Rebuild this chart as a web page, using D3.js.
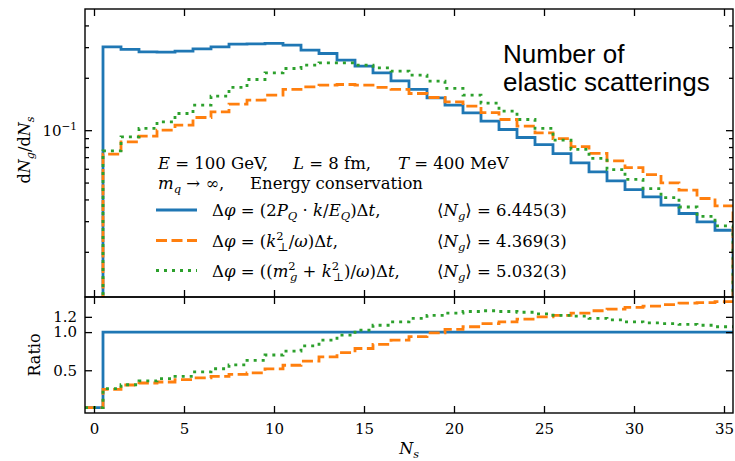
<!DOCTYPE html>
<html>
<head>
<meta charset="utf-8">
<script src="https://cdn.jsdelivr.net/npm/d3@7"></script>
<style>
  body { margin: 0; background: #fff; }
  svg text { font-family: "DejaVu Serif", serif; fill: #000; white-space: pre; }
  .sans { font-family: "Liberation Sans", Arial, sans-serif !important; }
  .axis path, .axis line { stroke: #000; stroke-width: 1.3; }
</style>
</head>
<body>
<svg id="chart" width="735" height="461"></svg>
<script>
// bin centres N_s = 0..35
const bins = d3.range(0, 36);

// dN_g/dN_s (bin 0 is below the axis)
const distBlue = [0, 0.3012, 0.2910, 0.2818, 0.2807, 0.2844, 0.2933, 0.3012, 0.3122, 0.3133,
  0.3150, 0.3080, 0.2883, 0.2759, 0.2526, 0.2333, 0.2135, 0.1920, 0.1714, 0.1533,
  0.1392, 0.1257, 0.1126, 0.1009, 0.0908, 0.0826, 0.0733, 0.0649, 0.0576, 0.0511,
  0.0456, 0.0414, 0.0371, 0.0332, 0.0297, 0.0266];
const distOrange = [0, 0.0728, 0.0857, 0.0924, 0.1000, 0.1068, 0.1183, 0.1274, 0.1411, 0.1487,
  0.1589, 0.1714, 0.1774, 0.1814, 0.1830, 0.1814, 0.1760, 0.1714, 0.1625, 0.1541,
  0.1454, 0.1374, 0.1261, 0.1152, 0.1054, 0.0965, 0.0894, 0.0804, 0.0735, 0.0666,
  0.0609, 0.0556, 0.0498, 0.0452, 0.0405, 0.0367];
const distGreen = [0, 0.0760, 0.0915, 0.1023, 0.1116, 0.1247, 0.1392, 0.1568, 0.1760, 0.1956,
  0.2135, 0.2262, 0.2363, 0.2436, 0.2436, 0.2363, 0.2280, 0.2183, 0.2071, 0.1912,
  0.1737, 0.1589, 0.1429, 0.1286, 0.1152, 0.1023, 0.0876, 0.0775, 0.0688, 0.0594,
  0.0521, 0.0462, 0.0410, 0.0362, 0.0320, 0.0282];

// ratio to the blue curve
const ratioBlue = [0.01, 1, 1, 1, 1, 1, 1, 1, 1, 1, 1, 1, 1, 1, 1, 1, 1, 1, 1, 1,
  1, 1, 1, 1, 1, 1, 1, 1, 1, 1, 1, 1, 1, 1, 1, 1];
const ratioOrange = [0.01, 0.25, 0.307, 0.333, 0.346, 0.377, 0.40, 0.42, 0.447, 0.465,
  0.517, 0.566, 0.62, 0.675, 0.73, 0.785, 0.84, 0.895, 0.94, 0.99,
  1.035, 1.07, 1.11, 1.135, 1.17, 1.20, 1.22, 1.25, 1.28, 1.30,
  1.325, 1.34, 1.36, 1.38, 1.385, 1.40];
const ratioGreen = [0.01, 0.26, 0.31, 0.36, 0.39, 0.42, 0.48, 0.52, 0.57, 0.63,
  0.70, 0.75, 0.82, 0.895, 0.96, 1.026, 1.09, 1.135, 1.18, 1.22,
  1.25, 1.27, 1.28, 1.27, 1.26, 1.24, 1.22, 1.21, 1.18, 1.16,
  1.135, 1.12, 1.11, 1.10, 1.09, 1.07];

const meanNg = ['6.445(3)', '4.369(3)', '5.032(3)'];
const xTicks = [0, 5, 10, 15, 20, 25, 30, 35];
const ratioTicks = [0.5, 1.0, 1.2];
const logMinor = [0.02, 0.03, 0.04, 0.05, 0.06, 0.07, 0.08, 0.09, 0.2, 0.3, 0.4];

const series = [
  { dist: distBlue, ratio: ratioBlue, color: '#1f77b4', dash: null },
  { dist: distOrange, ratio: ratioOrange, color: '#ff7f0e', dash: '11,4.5' },
  { dist: distGreen, ratio: ratioGreen, color: '#2ca02c', dash: '3,5' },
];

const svg = d3.select('#chart');
const L = 85, R = 733, T = 9, M = 297, B = 413;
const lw = 2.8;

const x = d3.scaleLinear().domain([-0.5, 35.5]).range([L, R]);
const yTop = d3.scaleLog().domain([0.011, 0.497]).range([M, T]);
const yRat = d3.scaleLinear().domain([-0.06, 1.46]).range([B, M]);

// clip regions
const defs = svg.append('defs');
defs.append('clipPath').attr('id', 'clipTop')
  .append('rect').attr('x', L).attr('y', T).attr('width', R - L).attr('height', M - T);
defs.append('clipPath').attr('id', 'clipBot')
  .append('rect').attr('x', L).attr('y', M).attr('width', R - L).attr('height', B - M);

const step = d3.line().curve(d3.curveStepAfter);

// histogram outline, closed down to zero at both ends
const topPoints = vals => {
  const yy = v => (v > 0 ? yTop(v) : M + 20);
  const pts = [[x(-0.5), M + 20]];
  vals.forEach((v, i) => pts.push([x(i - 0.5), yy(v)]));
  pts.push([x(35.5), yy(vals[vals.length - 1])]);
  pts.push([x(35.5), M + 20]);
  return pts;
};
const ratioPoints = vals => {
  const pts = vals.map((v, i) => [x(i - 0.5), yRat(v)]);
  pts.push([x(35.5), yRat(vals[vals.length - 1])]);
  return pts;
};

const gTop = svg.append('g').attr('clip-path', 'url(#clipTop)');
const gBot = svg.append('g').attr('clip-path', 'url(#clipBot)');
series.forEach(s => {
  gTop.append('path')
    .attr('d', step(topPoints(s.dist)))
    .attr('fill', 'none').attr('stroke', s.color).attr('stroke-width', lw)
    .attr('stroke-dasharray', s.dash);
  gBot.append('path')
    .attr('d', step(ratioPoints(s.ratio)))
    .attr('fill', 'none').attr('stroke', s.color).attr('stroke-width', lw)
    .attr('stroke-dasharray', s.dash);
});

// axes with inward ticks on every side
const tickFont = 15;
const addAxis = (axis, tx, ty) => {
  const g = svg.append('g').attr('class', 'axis')
    .attr('transform', `translate(${tx},${ty})`).call(axis);
  g.select('.domain').remove();
  g.selectAll('text').style('font-size', `${tickFont}px`).style('font-family', '"DejaVu Serif", serif');
  return g;
};
const noLab = () => '';

addAxis(d3.axisBottom(x).tickValues(xTicks).tickSize(-7).tickFormat(noLab), 0, M);
addAxis(d3.axisTop(x).tickValues(xTicks).tickSize(-7).tickFormat(noLab), 0, T);
addAxis(d3.axisTop(x).tickValues(xTicks).tickSize(-7).tickFormat(noLab), 0, M);
addAxis(d3.axisBottom(x).tickValues(xTicks).tickSize(-7).tickPadding(10), 0, B);

addAxis(d3.axisLeft(yTop).tickValues([0.1]).tickSize(-7).tickFormat(noLab), L, 0);
addAxis(d3.axisLeft(yTop).tickValues(logMinor).tickSize(-4).tickFormat(noLab), L, 0);
addAxis(d3.axisRight(yTop).tickValues([0.1]).tickSize(-7).tickFormat(noLab), R, 0);
addAxis(d3.axisRight(yTop).tickValues(logMinor).tickSize(-4).tickFormat(noLab), R, 0);

addAxis(d3.axisLeft(yRat).tickValues(ratioTicks).tickSize(-7).tickPadding(8)
  .tickFormat(d3.format('.1f')), L, 0);
addAxis(d3.axisRight(yRat).tickValues(ratioTicks).tickSize(-7).tickFormat(noLab), R, 0);

// frames
[[T, M], [M, B]].forEach(([a, b]) => {
  svg.append('rect').attr('x', L).attr('y', a).attr('width', R - L).attr('height', b - a)
    .attr('fill', 'none').attr('stroke', '#000').attr('stroke-width', 1.4);
});

// text with italic / sub / sup pieces
const mathText = (g, px, py, parts, size, anchor) => {
  const t = g.append('text').attr('x', px).attr('y', py)
    .style('font-size', `${size}px`).attr('text-anchor', anchor || 'start');
  let shift = 0;
  parts.forEach(([str, kind = 'r', dx]) => {
    let target = 0;
    if (kind.startsWith('sub')) target = size * 0.25;
    if (kind.startsWith('sup')) target = -size * 0.4;
    const ts = t.append('tspan').text(str).attr('dy', target - shift);
    shift = target;
    if (target !== 0) ts.style('font-size', `${size * 0.7}px`);
    if (kind === 'i' || kind.endsWith('i')) ts.style('font-style', 'italic');
    if (dx) ts.attr('dx', dx);
  });
  return t;
};

const fs = 16.5;
const back = -fs * 0.7 * 0.5;
mathText(svg, 77, 136, [['10'], ['\u22121', 'sup']], tickFont, 'end');

mathText(svg, 158, 168.5, [['E', 'i'], [' = 100 GeV,']], fs);
mathText(svg, 293, 168.5, [['L', 'i'], [' = 8 fm,']], fs);
mathText(svg, 398, 168.5, [['T', 'i'], [' = 400 MeV']], fs);
mathText(svg, 158, 188.5, [['m', 'i'], ['q', 'subi'], [' \u2192 \u221e,']], fs);
mathText(svg, 250, 188.5, [['Energy conservation']], fs);

const legendRows = [
  [['\u0394'], ['\u03c6', 'i'], [' = (2'], ['P', 'i'], ['Q', 'subi'], [' \u00b7 '], ['k', 'i'],
    ['/'], ['E', 'i'], ['Q', 'subi'], [')\u0394'], ['t', 'i'], [',']],
  [['\u0394'], ['\u03c6', 'i'], [' = ('], ['k', 'i'], ['2', 'sup'], ['\u22a5', 'sub', back],
    ['/'], ['\u03c9', 'i'], [')\u0394'], ['t', 'i'], [',']],
  [['\u0394'], ['\u03c6', 'i'], [' = (('], ['m', 'i'], ['2', 'sup'], ['g', 'subi', back],
    [' + '], ['k', 'i'], ['2', 'sup'], ['\u22a5', 'sub', back], [')/'], ['\u03c9', 'i'],
    [')\u0394'], ['t', 'i'], [',']],
];
const rowY = [210, 240.5, 270.5];
series.forEach((s, i) => {
  svg.append('line').attr('x1', 156).attr('x2', 197).attr('y1', rowY[i]).attr('y2', rowY[i])
    .attr('stroke', s.color).attr('stroke-width', lw).attr('stroke-dasharray', s.dash);
  mathText(svg, 212, rowY[i] + 6, legendRows[i], fs);
  mathText(svg, 437, rowY[i] + 6, [['\u27e8'], ['N', 'i'], ['g', 'subi'], [`\u27e9 = ${meanNg[i]}`]], fs);
});

svg.append('text').attr('class', 'sans').attr('x', 503).attr('y', 63)
  .style('font-size', '26px').text('Number of');
svg.append('text').attr('class', 'sans').attr('x', 503).attr('y', 91)
  .style('font-size', '26px').text('elastic scatterings');

// axis titles
const yl = svg.append('g').attr('transform', 'translate(30,150) rotate(-90)');
mathText(yl, 0, 0, [['d'], ['N', 'i'], ['g', 'subi'], ['/d'], ['N', 'i'], ['s', 'subi']], 16, 'middle');
const rl = svg.append('g').attr('transform', 'translate(40,355) rotate(-90)');
mathText(rl, 0, 0, [['Ratio']], 16, 'middle');
mathText(svg, 409, 454, [['N', 'i'], ['s', 'subi']], 16, 'middle');
</script>
</body>
</html>
